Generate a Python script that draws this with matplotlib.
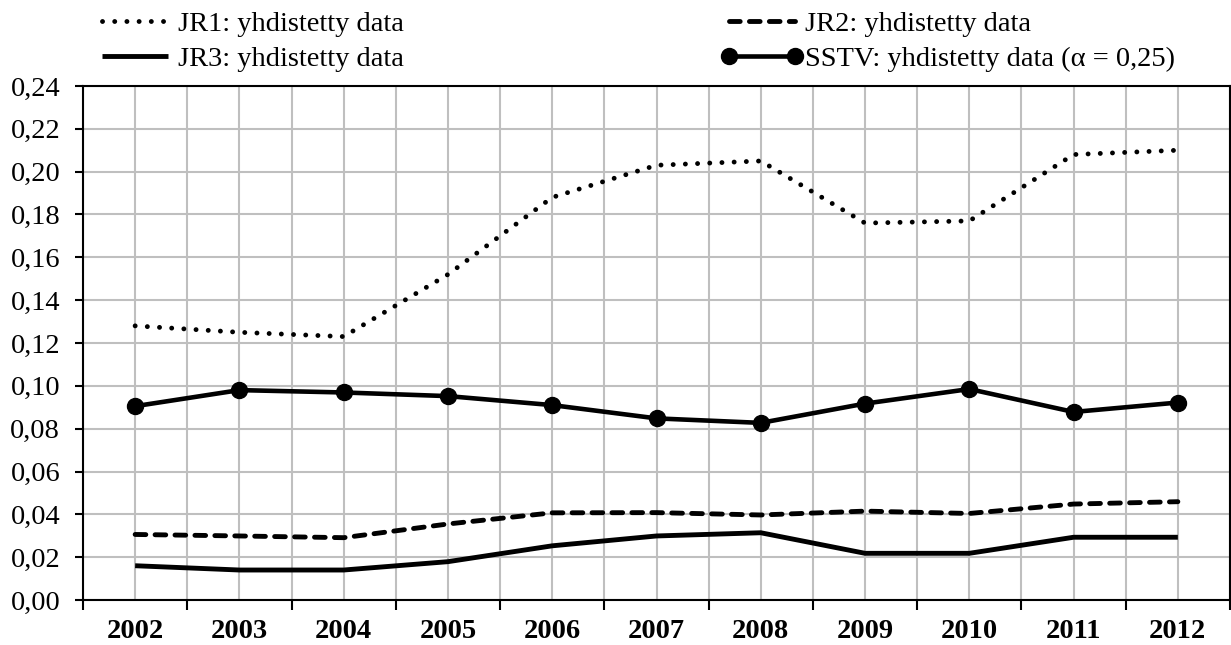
import matplotlib
matplotlib.use("Agg")
import matplotlib.pyplot as plt
from matplotlib.ticker import FixedLocator, FuncFormatter

years = ["2002", "2003", "2004", "2005", "2006", "2007", "2008", "2009", "2010", "2011", "2012"]
jr1 = [0.128, 0.125, 0.123, 0.152, 0.188, 0.203, 0.205, 0.176, 0.177, 0.208, 0.210]
jr2 = [0.0306, 0.0299, 0.0291, 0.0355, 0.0407, 0.0408, 0.0397, 0.0415, 0.0404, 0.0448, 0.0459]
jr3 = [0.016, 0.014, 0.014, 0.0179, 0.0253, 0.0299, 0.0314, 0.0218, 0.0218, 0.0293, 0.0293]
sstv = [0.0905, 0.098, 0.0969, 0.0952, 0.091, 0.0848, 0.0827, 0.0917, 0.0985, 0.0878, 0.0922]

plt.rcParams["font.family"] = ["Liberation Serif", "DejaVu Serif"]
plt.rcParams["font.size"] = 20.5

fig = plt.figure(figsize=(12.31, 6.45), dpi=100)
ax = fig.add_axes([83 / 1231, 1 - 600 / 645, 1147 / 1231, 514 / 645])

x = list(range(len(years)))
ax.plot(x, jr1, color="black", lw=3.5, linestyle=(0, (0.01, 2.5)),
        dash_capstyle="round", label="JR1: yhdistetty data", zorder=3)
ax.plot(x, jr3, color="black", lw=3.5, solid_capstyle="butt",
        label="JR3: yhdistetty data", zorder=3)
ax.plot(x, jr2, color="black", lw=3.5, linestyle=(0, (2.2, 1.9)),
        dash_capstyle="round", label="JR2: yhdistetty data", zorder=3)
ax.plot(x, sstv, color="black", lw=3.3, marker="o", markersize=11.5,
        label="SSTV: yhdistetty data (\u03b1 = 0,25)", zorder=4)

ax.set_xlim(-0.5, len(years) - 0.5)
ax.set_ylim(0, 0.24)

# category boundaries carry the ticks, centres carry the year labels
ax.xaxis.set_major_locator(FixedLocator([i - 0.5 for i in range(len(years) + 1)]))
ax.xaxis.set_major_formatter(FuncFormatter(lambda v, p: ""))
ax.set_xticks(x, years, minor=True)
for lbl in ax.get_xticklabels(minor=True):
    lbl.set_fontweight("bold")
ax.tick_params(axis="x", which="major", direction="out", length=7, width=1.5)
ax.tick_params(axis="x", which="minor", length=0, pad=14)

ax.set_yticks([i * 0.02 for i in range(13)])
ax.yaxis.set_major_formatter(FuncFormatter(lambda v, p: f"{v:.2f}".replace(".", ",")))
ax.tick_params(axis="y", direction="out", length=6, width=1.5, pad=10.4)

ax.grid(True, which="both", axis="x", color="#bfbfbf", lw=1.5, zorder=0)
ax.grid(True, which="major", axis="y", color="#bfbfbf", lw=1.5, zorder=0)
ax.set_axisbelow(True)
for s in ax.spines.values():
    s.set_linewidth(1.5)
    s.set_color("black")

fig.legend(loc="upper left", bbox_to_anchor=(93.5 / 1231, 1 - 10.7 / 645), ncol=2,
           frameon=False, handlelength=2.91, handletextpad=0.05,
           columnspacing=11.14, labelspacing=0.34, borderpad=0,
           borderaxespad=0, numpoints=2, fontsize=20.5)

fig.savefig("out.png", dpi=100)
